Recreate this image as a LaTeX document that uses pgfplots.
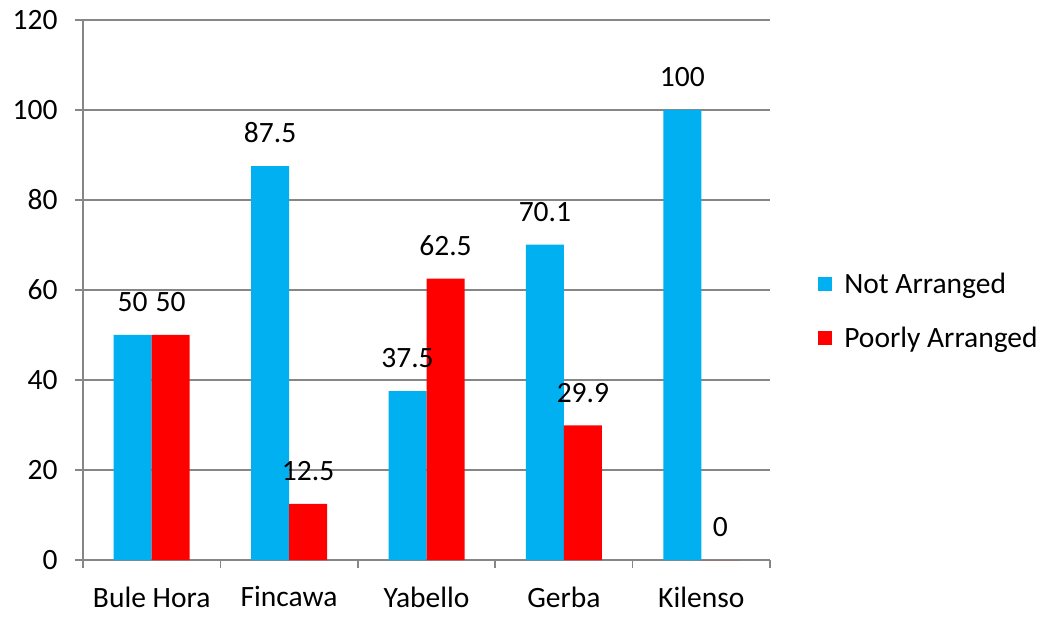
\documentclass[border=0pt]{standalone}
\usepackage{fontspec}
\setmainfont{Carlito}
\usepackage{pgfplots}
\pgfplotsset{compat=1.18}
\definecolor{notarr}{HTML}{00B0F0}
\definecolor{poorarr}{HTML}{FF0000}
\definecolor{gridgray}{HTML}{868686}

\begin{document}
\begin{tikzpicture}
\begin{axis}[
    at={(0,0)}, anchor=south west,
    scale only axis,
    width=687pt, height=540pt,
    font=\fontsize{29.5}{34}\selectfont,
    /pgf/number format/assume math mode=true,
    ybar=0pt, bar width=38pt,
    xmin=-0.5, xmax=4.5,
    ymin=0, ymax=120,
    ytick={0,20,...,120},
    xtick={0,1,2,3,4},
    xticklabels={Bule Hora,Fincawa,Yabello,Gerba,Kilenso},
    axis x line*=bottom, axis y line*=left,
    axis line style={draw=gridgray, line width=1.5pt},
    tick align=outside,
    major tick length=8pt,
    ytick style={draw=gridgray, line width=1.5pt},
    xtick style={draw=none},
    extra x ticks={-0.5,0.5,1.5,2.5,3.5,4.5},
    extra x tick labels={},
    extra x tick style={xtick style={draw=gridgray, line width=1.5pt}, major tick length=8pt, grid=none},
    ymajorgrids,
    grid style={draw=gridgray, line width=1.5pt},
    yticklabel style={xshift=-14pt},
    xticklabel style={yshift=-15pt},
    nodes near coords,
    every node near coord/.append style={anchor=south, inner sep=0pt, yshift=23pt, text=black},
    legend style={at={(1.07,0.461)}, anchor=west, draw=none, fill=none,
        row sep=28pt, inner sep=0pt,
        /tikz/every odd column/.append style={column sep=10pt}},
    legend cell align=left,
    legend image code/.code={\fill[#1] (0pt,-7pt) rectangle (14pt,7pt);},
]
\addplot[fill=notarr, draw=none] coordinates {(0,50) (1,87.5) (2,37.5) (3,70.1) (4,100)};
\addlegendentry{Not Arranged}
\addplot[fill=poorarr, draw=none] coordinates {(0,50) (1,12.5) (2,62.5) (3,29.9) (4,0)};
\addlegendentry{Poorly Arranged}
\end{axis}
\pgfresetboundingbox
\path (-83pt,-56pt) rectangle (961pt,560pt);
\end{tikzpicture}
\end{document}
